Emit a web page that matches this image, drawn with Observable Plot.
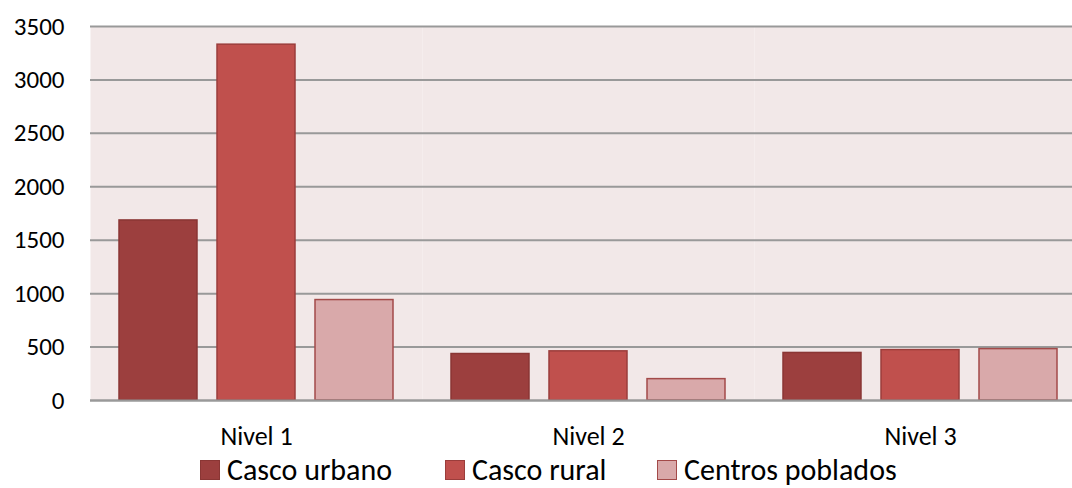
<!DOCTYPE html>
<html>
<head>
<meta charset="utf-8">
<script src="https://cdn.jsdelivr.net/npm/d3@7"></script>
<script src="https://cdn.jsdelivr.net/npm/@observablehq/plot@0.6"></script>
<style>
  html, body { margin: 0; padding: 0; background: #fff; overflow: hidden; }
  #wrap { width: 1072px; height: 488px; overflow: hidden; position: relative; font-family: Carlito, Lato, sans-serif; }
  #chart svg { display: block; max-width: none !important; }
  #legend { position: absolute; left: 0; top: 451px; width: 1072px; height: 37px; }
  .item { position: absolute; top: 0; display: flex; align-items: center; font-size: 30px; color: #000;
          line-height: 37px; height: 37px; white-space: nowrap; }
  .sw { width: 20px; height: 20px; margin-right: 7px; box-sizing: border-box; border: 1.5px solid; }
</style>
</head>
<body>
<div id="wrap">
  <div id="chart"></div>
  <div id="legend"></div>
</div>
<script>
// Categories and series
const levels = ["Nivel 1", "Nivel 2", "Nivel 3"];
const series = ["Casco urbano", "Casco rural", "Centros poblados"];

// Values per level, one array per series
const cascoUrbano = [1685, 435, 445];
const cascoRural = [3330, 460, 472];
const centrosPoblados = [940, 200, 481];

// Y axis tick values
const yTicks = [0, 500, 1000, 1500, 2000, 2500, 3000, 3500];

const fills = ["#9C3F3E", "#C0504D", "#D9A9AA"];
const strokes = ["#8A3634", "#9B3D3B", "#A34A49"];
const bg = "#F2E8E8";
const gridColor = "#999999";

const valuesBySeries = [cascoUrbano, cascoRural, centrosPoblados];
const data = [];
levels.forEach((lvl, i) => {
  series.forEach((s, j) => {
    data.push({ level: lvl, series: s, value: valuesBySeries[j][i] });
  });
});

// The last group runs a little past the right edge of the page
const chart = Plot.plot({
  width: 1086,
  height: 451,
  marginLeft: 90,
  marginRight: 0,
  marginTop: 26,
  marginBottom: 51,
  style: { fontFamily: "Carlito, Lato, sans-serif", background: "transparent", color: "#000" },
  fx: { domain: levels, padding: 0, label: null },
  x: { domain: series, paddingInner: 0.2, paddingOuter: 0.29, axis: null },
  y: { domain: [0, 3500], label: null, axis: null },
  color: { domain: series, range: fills },
  marks: [
    Plot.frame({ fill: bg, stroke: null }),
    Plot.ruleY(yTicks, { stroke: gridColor, strokeWidth: 2 }),
    Plot.barY(data, {
      fx: "level", x: "series", y: "value",
      fill: "series",
      stroke: d => strokes[series.indexOf(d.series)],
      strokeWidth: 1.5
    }),
    Plot.ruleY([0], { stroke: gridColor, strokeWidth: 2 }),
    Plot.axisY({ ticks: yTicks, tickSize: 0, tickPadding: 26, fontSize: 25, label: null, tickFormat: d => String(d) }),
    Plot.axisFx({ anchor: "bottom", tickSize: 0, tickPadding: 26, fontSize: 26, label: null })
  ]
});
document.getElementById("chart").appendChild(chart);

// Legend below the chart, one entry per series
const legendLeft = [200, 445, 657];
const legend = document.getElementById("legend");
series.forEach((s, j) => {
  const item = document.createElement("div");
  item.className = "item";
  item.style.left = legendLeft[j] + "px";
  const sw = document.createElement("span");
  sw.className = "sw";
  sw.style.background = fills[j];
  sw.style.borderColor = strokes[j];
  const label = document.createElement("span");
  label.textContent = s;
  item.appendChild(sw);
  item.appendChild(label);
  legend.appendChild(item);
});
</script>
</body>
</html>
